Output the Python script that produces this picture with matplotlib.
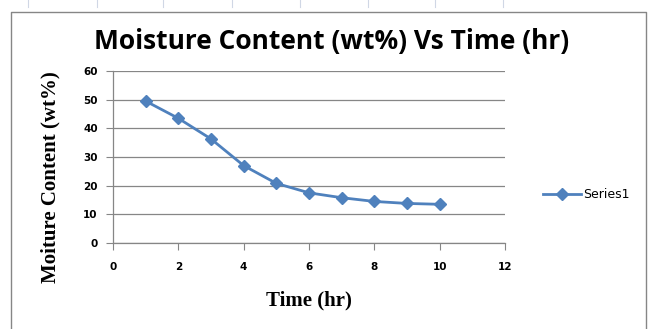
import matplotlib
matplotlib.use("Agg")
import matplotlib.pyplot as plt
from matplotlib.lines import Line2D

# data
time_hr = [1, 2, 3, 4, 5, 6, 7, 8, 9, 10]
moisture = [49.5, 43.5, 36.3, 27.0, 20.8, 17.5, 15.8, 14.5, 13.8, 13.5]
series_name = "Series1"
x_ticks = [0, 2, 4, 6, 8, 10, 12]
y_ticks = [0, 10, 20, 30, 40, 50, 60]

blue = "#4F81BD"
grey = "#868686"

fig = plt.figure(figsize=(6.51, 3.29), dpi=100)
W, H = 651, 329

# spreadsheet column marks above the chart
for px in [28, 97, 163, 232, 300, 368, 435, 503]:
    fig.add_artist(Line2D([px / W, px / W], [1, 1 - 7 / H], color="#d0d7e5", lw=0.8))

# chart frame (left, top, right)
fl, fr, ft = 11 / W, 646 / W, 1 - 12 / H
fig.add_artist(Line2D([fl, fl, fr, fr], [0, ft, ft, 0], color=grey, lw=1.0))

ax = fig.add_axes([113 / W, 1 - 243 / H, 392 / W, 172 / H])
ax.plot(time_hr, moisture, color=blue, lw=2, marker="D", ms=6,
        markerfacecolor=blue, markeredgecolor=blue, label=series_name)

ax.set_xlim(0, 12)
ax.set_ylim(0, 60)
ax.set_xticks(x_ticks)
ax.set_yticks(y_ticks)
ax.yaxis.grid(True, color=grey, lw=0.9)
ax.set_axisbelow(True)
for s in ["top", "right"]:
    ax.spines[s].set_visible(False)
for s in ["left", "bottom"]:
    ax.spines[s].set_color(grey)
    ax.spines[s].set_linewidth(0.9)

ax.tick_params(axis="x", direction="out", length=5, color=grey, pad=9,
               labelsize=7.5)
ax.tick_params(axis="y", direction="out", length=5, color=grey, pad=6,
               labelsize=7.5)
for lab in ax.get_xticklabels() + ax.get_yticklabels():
    lab.set_fontfamily("DejaVu Sans")
    lab.set_fontweight("bold")

ax.set_xlabel("Time (hr)", fontfamily="Liberation Serif", fontweight="bold",
              fontsize=15)
ax.xaxis.set_label_coords(0.5, -47 / 172)
ax.set_ylabel("Moiture Content (wt%)", fontfamily="Liberation Serif",
              fontweight="bold", fontsize=15)
ax.yaxis.set_label_coords(-53 / 392, (243 - 177) / 172)

fig.text(332 / W, 1 - 41 / H, "Moisture Content (wt%) Vs Time (hr)",
         fontfamily="Open Sans", fontweight="bold", fontsize=19,
         ha="center", va="center")

leg = fig.legend(loc="center left", bbox_to_anchor=(532 / W, 1 - 195 / H),
                 frameon=False, prop={"family": "DejaVu Sans", "size": 9},
                 handlelength=3.0, handletextpad=0.2)

fig.savefig("out.png", dpi=100)
